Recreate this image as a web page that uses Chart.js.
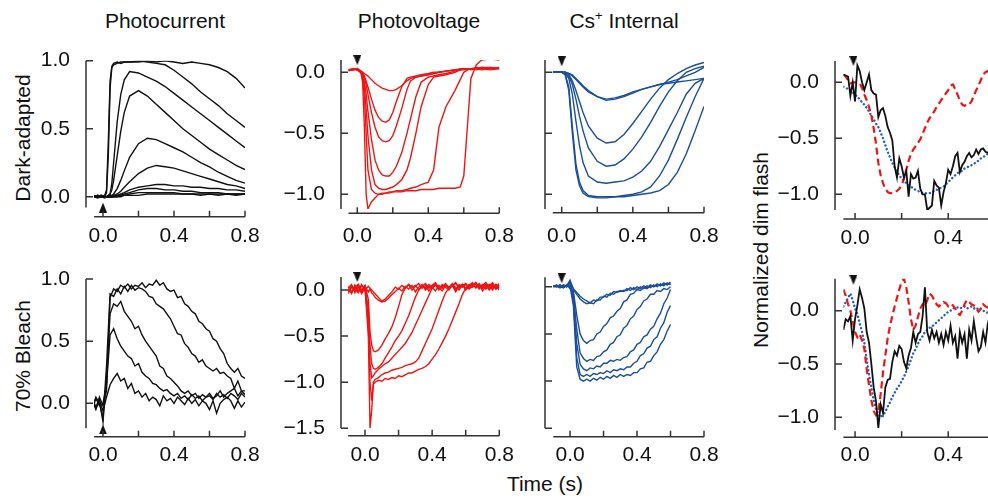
<!DOCTYPE html>
<html>
<head>
<meta charset="utf-8">
<title>Photocurrent, photovoltage and Cs+ internal responses</title>
<script src="https://cdn.jsdelivr.net/npm/chart.js@4.4.1/dist/chart.umd.min.js"></script>
<style>
  html, body { margin: 0; padding: 0; }
  body { width: 988px; height: 498px; overflow: hidden; position: relative; background: #fff;
         font-family: "Liberation Sans", Arial, Helvetica, sans-serif; color: #111; }
  canvas { position: absolute; }
  .txt { position: absolute; font-size: 21px; line-height: 20px; white-space: nowrap; }
  .center { transform: translateX(-50%); }
  .rot { transform: translate(-50%, -50%) rotate(-90deg); }
  sup { font-size: 13px; line-height: 0; vertical-align: 8px; }
</style>
</head>
<body>
<div class="txt center" style="left:165px;top:11px">Photocurrent</div>
<div class="txt center" style="left:419px;top:11px">Photovoltage</div>
<div class="txt center" style="left:624px;top:11px">Cs<sup>+</sup> Internal</div>
<div class="txt rot" style="left:23px;top:138px">Dark-adapted</div>
<div class="txt rot" style="left:23px;top:356px">70% Bleach</div>
<div class="txt rot" style="left:761px;top:250px">Normalized dim flash</div>
<div class="txt center" style="left:545px;top:474px">Time (s)</div>
<script>
// ---- tick values / labels ----
const xTicks = [0, 0.2, 0.4, 0.6, 0.8];
const xLabels = [0, 0.4, 0.8];
const xTicksNorm = [0, 0.2, 0.4, 0.6];
const xLabelsNorm = [0, 0.4];
const yTicksCurrent = [0, 0.5, 1.0];
const yTicksVoltDark = [0, -0.5, -1.0];
const yTicksVoltBleach = [0, -0.5, -1.0, -1.5];
const yTicksNorm = [0, -0.5, -1.0];

// ---- time grids (s) ----
const timeDarkCurrent = [-0.05,-0.03,-0.01,0.01,0.02,0.03,0.04,0.05,0.06,0.08,0.1,0.12,0.15,0.2,0.25,0.3,0.35,0.4,0.45,0.5,0.55,0.6,0.65,0.7,0.75,0.8];
const timeDarkVolt = [-0.05,-0.02,0.0,0.02,0.03,0.04,0.05,0.06,0.08,0.1,0.12,0.14,0.16,0.18,0.2,0.22,0.25,0.28,0.3,0.33,0.36,0.4,0.43,0.46,0.5,0.55,0.58,0.6,0.62,0.64,0.67,0.7,0.75,0.8];
const timeDarkCs = [-0.05,-0.02,0.0,0.02,0.04,0.06,0.08,0.1,0.12,0.15,0.2,0.25,0.3,0.35,0.4,0.45,0.5,0.55,0.6,0.65,0.7,0.75,0.8];
const timeNorm = [-0.05,-0.04,-0.03,-0.02,-0.01,0.0,0.01,0.02,0.03,0.04,
  0.05,0.06,0.07,0.08,0.09,0.1,0.11,0.12,0.13,0.14,
  0.15,0.16,0.17,0.18,0.19,0.2,0.21,0.22,0.23,0.24,
  0.25,0.26,0.27,0.28,0.29,0.3,0.31,0.32,0.33,0.34,
  0.35,0.36,0.37,0.38,0.39,0.4,0.41,0.42,0.43,0.44,
  0.45,0.46,0.47,0.48,0.49,0.5,0.51,0.52,0.53,0.54,
  0.55,0.56,0.57,0.58];
const timeBleachCurrent = [-0.06,-0.04,-0.02,0,0.02,0.04,0.06,0.08,0.1,0.12,
  0.14,0.16,0.18,0.2,0.22,0.24,0.26,0.28,0.3,0.32,
  0.34,0.36,0.38,0.4,0.42,0.44,0.46,0.48,0.5,0.52,
  0.54,0.56,0.58,0.6,0.62,0.64,0.66,0.68,0.7,0.72,
  0.74,0.76,0.78,0.8];
const timeBleachVolt = [-0.1,-0.08,-0.06,-0.04,-0.02,0,0.02,0.03,0.04,0.05,
  0.06,0.08,0.1,0.12,0.14,0.16,0.18,0.2,0.22,0.24,
  0.26,0.28,0.3,0.32,0.34,0.36,0.38,0.4,0.42,0.44,
  0.46,0.48,0.5,0.52,0.54,0.56,0.58,0.6,0.62,0.64,
  0.66,0.68,0.7,0.72,0.74,0.76,0.78,0.8];
const timeBleachCs = [-0.1,-0.08,-0.06,-0.04,-0.02,0,0.02,0.04,0.06,0.08,
  0.1,0.12,0.14,0.16,0.18,0.2,0.22,0.24,0.26,0.28,
  0.3,0.32,0.34,0.36,0.38,0.4,0.42,0.44,0.46,0.48,
  0.5,0.52,0.54,0.56,0.58,0.6];

// ---- dark-adapted photocurrent (normalized) ----
const darkCurrentA = [0.00,0.01,0.00,0.01,0.05,0.40,0.85,0.96,0.98,0.99,0.98,0.99,0.99,0.99,1.00,0.99,1.00,0.99,0.98,0.99,0.98,0.97,0.95,0.92,0.87,0.80];
const darkCurrentB = [0.00,0.00,0.01,0.00,0.03,0.30,0.80,0.95,0.97,0.98,0.99,0.99,0.99,1.00,0.99,0.98,0.97,0.93,0.88,0.83,0.77,0.72,0.67,0.61,0.56,0.51];
const darkCurrentC = [0.00,0.00,0.00,0.01,0.00,0.01,0.02,0.10,0.25,0.55,0.75,0.86,0.92,0.91,0.88,0.85,0.81,0.76,0.71,0.66,0.61,0.56,0.51,0.46,0.41,0.36];
const darkCurrentD = [0.00,0.00,0.00,0.00,0.00,0.01,0.02,0.05,0.12,0.30,0.48,0.62,0.74,0.78,0.74,0.68,0.62,0.56,0.50,0.45,0.40,0.35,0.31,0.27,0.23,0.20];
const darkCurrentE = [0.00,0.00,0.01,0.00,0.00,0.00,0.01,0.01,0.02,0.06,0.12,0.19,0.29,0.39,0.43,0.42,0.39,0.36,0.33,0.29,0.25,0.22,0.18,0.15,0.12,0.10];
const darkCurrentF = [0.00,0.00,0.00,0.00,0.00,0.00,0.00,0.01,0.01,0.02,0.04,0.07,0.11,0.17,0.21,0.23,0.22,0.21,0.19,0.17,0.15,0.13,0.11,0.09,0.08,0.06];
const darkCurrentG = [0.00,0.01,0.00,0.00,0.00,0.00,0.00,0.00,0.01,0.01,0.02,0.03,0.05,0.07,0.08,0.09,0.09,0.08,0.08,0.07,0.07,0.06,0.06,0.05,0.05,0.04];
const darkCurrentH = [0.00,0.00,0.00,-0.01,0.00,0.00,0.00,0.00,0.00,0.01,0.01,0.02,0.03,0.05,0.06,0.06,0.05,0.05,0.04,0.04,0.03,0.03,0.03,0.02,0.02,0.02];
const darkCurrentI = [0.01,0.00,0.00,0.00,0.00,0.00,0.00,0.00,0.00,0.00,0.01,0.01,0.02,0.03,0.03,0.03,0.03,0.03,0.02,0.02,0.02,0.02,0.02,0.02,0.01,0.02];
const darkCurrentJ = [0.00,-0.01,0.00,0.00,0.00,0.00,0.00,0.00,0.00,0.00,0.00,0.01,0.01,0.01,0.02,0.02,0.02,0.02,0.02,0.02,0.01,0.02,0.01,0.02,0.02,0.02];

// ---- dark-adapted photovoltage ----
const darkVoltA = [0.02,0.03,0.02,0.01,0.0,-0.01,-0.02,-0.03,-0.06,-0.09,-0.11,-0.13,-0.14,-0.15,-0.15,-0.14,-0.11,-0.07,-0.05,-0.04,-0.03,-0.02,-0.01,0.0,0.01,0.02,0.02,0.03,0.03,0.03,0.02,0.03,0.02,0.03];
const darkVoltB = [0.02,0.02,0.03,0.01,0.0,-0.03,-0.07,-0.12,-0.22,-0.31,-0.37,-0.40,-0.41,-0.39,-0.33,-0.24,-0.12,-0.05,-0.04,-0.03,-0.02,-0.01,0.0,0.0,0.01,0.02,0.03,0.03,0.02,0.03,0.03,0.02,0.03,0.04];
const darkVoltC = [0.01,0.03,0.02,0.01,-0.01,-0.05,-0.10,-0.18,-0.33,-0.45,-0.53,-0.56,-0.57,-0.56,-0.52,-0.44,-0.30,-0.14,-0.07,-0.04,-0.03,-0.02,-0.01,0.0,0.01,0.02,0.02,0.03,0.03,0.02,0.03,0.04,0.03,0.03];
const darkVoltD = [0.02,0.02,0.02,0.0,-0.02,-0.08,-0.18,-0.32,-0.55,-0.72,-0.80,-0.84,-0.85,-0.85,-0.82,-0.77,-0.66,-0.50,-0.38,-0.20,-0.08,-0.04,-0.03,-0.02,-0.01,0.01,0.02,0.03,0.03,0.03,0.03,0.04,0.04,0.03];
const darkVoltE = [0.02,0.03,0.02,0.0,-0.03,-0.12,-0.30,-0.52,-0.80,-0.92,-0.95,-0.96,-0.96,-0.95,-0.94,-0.92,-0.88,-0.80,-0.70,-0.50,-0.28,-0.10,-0.04,-0.03,-0.02,0.0,0.02,0.02,0.03,0.03,0.04,0.03,0.04,0.03];
const darkVoltF = [0.02,0.02,0.03,0.01,-0.04,-0.20,-0.50,-0.80,-0.96,-0.99,-1.0,-0.99,-0.99,-0.98,-0.98,-0.97,-0.97,-0.96,-0.95,-0.94,-0.92,-0.90,-0.80,-0.45,-0.28,-0.15,-0.06,0.0,0.02,0.03,0.03,0.04,0.03,0.04];
const darkVoltG = [0.02,0.03,0.02,0.0,-0.08,-0.45,-1.0,-1.12,-1.06,-1.03,-1.0,-1.0,-0.99,-0.99,-0.98,-0.98,-0.98,-0.97,-0.97,-0.97,-0.96,-0.96,-0.96,-0.95,-0.95,-0.95,-0.94,-0.85,-0.45,-0.05,0.06,0.10,0.11,0.10];

// ---- dark-adapted Cs+ internal ----
const darkCsA = [0,0,0,0,-0.01,-0.03,-0.06,-0.09,-0.12,-0.16,-0.2,-0.22,-0.21,-0.19,-0.16,-0.14,-0.12,-0.10,-0.08,-0.06,-0.03,0.0,0.04];
const darkCsB = [0,0,0,0,-0.01,-0.02,-0.05,-0.08,-0.11,-0.15,-0.2,-0.23,-0.22,-0.2,-0.17,-0.14,-0.12,-0.1,-0.09,-0.08,-0.07,-0.06,-0.05];
const darkCsC = [0,0,0,0,-0.02,-0.07,-0.15,-0.24,-0.33,-0.44,-0.54,-0.58,-0.57,-0.51,-0.42,-0.32,-0.22,-0.13,-0.06,-0.01,0.03,0.06,0.08];
const darkCsD = [0,0,0,-0.01,-0.03,-0.1,-0.22,-0.36,-0.48,-0.62,-0.73,-0.77,-0.76,-0.71,-0.63,-0.53,-0.41,-0.28,-0.16,-0.07,0.0,0.03,0.05];
const darkCsE = [0,0,0,-0.01,-0.05,-0.18,-0.4,-0.6,-0.74,-0.85,-0.9,-0.91,-0.9,-0.89,-0.86,-0.81,-0.73,-0.61,-0.47,-0.33,-0.18,-0.09,-0.05];
const darkCsF = [0,0,0,-0.02,-0.12,-0.45,-0.75,-0.9,-0.97,-1.01,-1.02,-1.02,-1.02,-1.01,-1.0,-0.98,-0.94,-0.85,-0.72,-0.55,-0.37,-0.2,-0.05];
const darkCsG = [0,0,0,-0.02,-0.15,-0.5,-0.8,-0.93,-0.99,-1.02,-1.03,-1.03,-1.02,-1.02,-1.01,-1.0,-0.99,-0.97,-0.92,-0.82,-0.67,-0.48,-0.28];

// ---- dark-adapted normalized dim flash ----
const darkNormCurrent = [0.07,0.06,0.05,-0.12,0.0,-0.17,0.15,0.1,0.0,-0.07,
  0.0,0.07,-0.07,-0.1,-0.11,-0.31,-0.25,-0.23,-0.3,-0.4,
  -0.45,-0.52,-0.75,-0.85,-0.68,-0.75,-0.85,-0.79,-1.02,-0.82,
  -0.86,-0.85,-0.79,-0.95,-1.0,-1.0,-1.14,-1.12,-1.1,-0.88,
  -0.92,-0.94,-1.1,-0.98,-0.9,-0.78,-0.82,-0.75,-0.66,-0.63,
  -0.8,-0.74,-0.71,-0.66,-0.63,-0.67,-0.65,-0.6,-0.64,-0.6,
  -0.59,-0.62,-0.63,-0.6];
const darkNormVolt = [0.07,0.05,0.02,-0.01,0.0,0.0,-0.01,-0.01,-0.05,-0.11,
  -0.16,-0.22,-0.3,-0.41,-0.55,-0.72,-0.83,-0.9,-0.95,-0.98,
  -0.99,-0.99,-0.98,-0.97,-0.95,-0.92,-0.86,-0.78,-0.7,-0.64,
  -0.6,-0.57,-0.54,-0.51,-0.46,-0.41,-0.36,-0.32,-0.29,-0.26,
  -0.22,-0.19,-0.16,-0.13,-0.1,-0.07,-0.03,-0.02,-0.06,-0.11,
  -0.16,-0.2,-0.21,-0.2,-0.2,-0.17,-0.12,-0.07,-0.03,0.02,
  0.07,0.09,0.1,0.12];
const darkNormCs = [-0.04,-0.05,-0.06,-0.07,-0.09,-0.11,-0.13,-0.15,-0.18,-0.2,
  -0.23,-0.26,-0.3,-0.33,-0.37,-0.4,-0.45,-0.5,-0.56,-0.62,
  -0.67,-0.72,-0.76,-0.8,-0.83,-0.86,-0.88,-0.9,-0.92,-0.93,
  -0.95,-0.96,-0.97,-0.98,-0.99,-0.99,-0.99,-0.99,-0.98,-0.97,
  -0.96,-0.95,-0.94,-0.93,-0.91,-0.89,-0.87,-0.85,-0.83,-0.81,
  -0.8,-0.79,-0.77,-0.76,-0.75,-0.74,-0.73,-0.71,-0.7,-0.68,
  -0.67,-0.65,-0.64,-0.62];

// ---- 70% bleach photocurrent ----
const bleachCurrentA = [0.03,-0.04,0.05,-0.02,0.1,0.85,0.92,0.9,0.95,0.93,
  0.96,0.92,0.95,0.94,0.97,0.93,0.96,0.95,0.99,0.95,
  0.97,0.92,0.9,0.91,0.85,0.86,0.8,0.78,0.74,0.72,
  0.66,0.64,0.6,0.58,0.52,0.5,0.44,0.4,0.32,0.28,
  0.25,0.28,0.22,0.2];
const bleachCurrentB = [-0.03,0.05,0.0,-0.12,0.3,0.88,0.86,0.92,0.88,0.94,
  0.9,0.95,0.91,0.93,0.92,0.9,0.86,0.85,0.8,0.78,
  0.76,0.72,0.68,0.62,0.56,0.55,0.48,0.45,0.4,0.38,
  0.33,0.35,0.3,0.28,0.26,0.28,0.24,0.25,0.22,0.2,
  0.12,0.18,0.1,0.1];
const bleachCurrentC = [0.02,-0.05,0.03,-0.15,0.2,0.72,0.8,0.78,0.82,0.74,
  0.7,0.66,0.6,0.62,0.55,0.5,0.46,0.42,0.38,0.3,
  0.28,0.22,0.2,0.17,0.14,0.1,0.08,0.1,0.06,0.08,
  0.04,0.07,0.05,0.06,0.03,0.08,0.05,0.07,0.04,0.08,
  0.06,0.03,0.08,0.05];
const bleachCurrentD = [-0.05,0.04,-0.02,0.0,0.15,0.55,0.6,0.52,0.46,0.42,
  0.38,0.36,0.3,0.32,0.25,0.22,0.2,0.16,0.15,0.12,
  0.1,0.11,0.08,0.06,0.08,0.04,0.06,0.03,0.07,0.04,
  0.06,0.02,0.05,0.08,0.04,0.06,0.1,0.05,0.08,0.1,
  0.12,0.06,0.1,0.07];
const bleachCurrentE = [0.04,-0.03,0.02,-0.06,0.05,0.15,0.2,0.24,0.18,0.2,
  0.12,0.16,0.08,0.1,0.05,0.08,0.02,0.05,0.03,-0.02,
  0.06,0.02,0.04,0.0,0.05,0.02,-0.01,0.04,0.0,0.03,
  -0.02,0.02,0.0,-0.05,0.02,-0.08,0.0,0.03,0.05,0.02,
  -0.04,0.02,-0.03,0.01];

// ---- 70% bleach photovoltage ----
const bleachVoltA = [0.03,-0.04,0.05,-0.02,0.06,0.0,0.04,0.02,0.0,-0.02,
  -0.04,-0.08,-0.12,-0.1,-0.06,-0.02,0.03,0.01,0.05,0.02,
  0.06,0.0,0.04,0.07,0.02,0.05,-0.01,0.04,0.06,0.0,
  0.03,0.07,0.02,0.05,-0.02,0.04,0.06,0.01,0.05,0.08,
  0.02,0.06,-0.01,0.04,0.05,0.0,0.06,0.03];
const bleachVoltB = [-0.04,0.03,0.0,0.06,-0.03,0.04,-0.02,0.01,-0.03,-0.05,
  -0.08,-0.11,-0.13,-0.12,-0.09,-0.05,-0.02,0.02,-0.01,0.04,
  0.01,0.05,-0.02,0.03,0.06,0.0,0.04,0.02,0.07,0.03,
  -0.01,0.05,0.02,0.06,0.03,0.0,0.05,0.07,0.02,0.04,
  0.08,0.01,0.05,0.03,0.06,0.02,0.04,0.0];
const bleachVoltC = [0.02,0.06,-0.03,0.04,0.0,0.05,-0.1,-0.45,-0.6,-0.66,
  -0.67,-0.65,-0.6,-0.53,-0.47,-0.4,-0.3,-0.18,-0.05,0.02,
  0.06,0.03,0.05,0.0,0.04,0.07,0.02,0.05,0.08,0.01,
  0.04,0.06,0.02,0.05,0.07,0.03,0.06,0.0,0.04,0.07,
  0.03,0.05,0.02,0.06,0.04,0.08,0.01,0.05];
const bleachVoltD = [-0.02,0.04,0.01,-0.03,0.05,0.02,-0.2,-0.6,-0.8,-0.85,
  -0.86,-0.84,-0.8,-0.74,-0.68,-0.62,-0.55,-0.5,-0.44,-0.36,
  -0.28,-0.18,-0.08,0.0,0.05,0.02,0.06,0.03,-0.01,0.05,
  0.02,0.06,0.03,0.07,0.01,0.04,0.06,0.02,0.05,0.03,
  0.07,0.02,0.04,0.06,0.01,0.05,0.03,0.07];
const bleachVoltE = [0.01,-0.03,0.05,0.0,-0.02,0.04,-0.3,-0.8,-0.95,-0.93,
  -0.9,-0.86,-0.83,-0.8,-0.78,-0.74,-0.7,-0.66,-0.62,-0.58,
  -0.52,-0.46,-0.38,-0.3,-0.22,-0.14,-0.06,0.02,0.05,0.01,
  0.06,0.03,0.0,0.05,0.08,0.02,0.04,0.06,0.01,0.05,
  0.03,0.07,0.02,0.05,0.0,0.04,0.06,0.02];
const bleachVoltF = [-0.02,0.05,0.0,0.03,-0.04,0.02,-0.4,-1.0,-1.2,-1.0,
  -0.97,-0.95,-0.92,-0.9,-0.89,-0.87,-0.86,-0.85,-0.84,-0.82,
  -0.81,-0.8,-0.78,-0.74,-0.66,-0.58,-0.5,-0.42,-0.32,-0.22,
  -0.12,-0.03,0.02,0.05,0.0,0.06,0.03,0.07,0.02,0.05,
  0.08,0.03,0.06,0.01,0.05,0.07,0.02,0.04];
const bleachVoltG = [0.04,-0.02,0.03,0.06,0.0,0.03,-0.5,-1.5,-1.3,-1.02,
  -1.0,-0.98,-0.99,-0.96,-0.97,-0.95,-0.96,-0.93,-0.94,-0.92,
  -0.9,-0.9,-0.88,-0.86,-0.85,-0.83,-0.8,-0.75,-0.7,-0.64,
  -0.57,-0.5,-0.42,-0.33,-0.24,-0.15,-0.05,0.02,0.06,0.03,
  0.07,0.02,0.05,0.08,0.03,0.06,0.01,0.05];

// ---- 70% bleach Cs+ internal ----
const bleachCsA = [0.0,0.01,-0.01,0.02,0.0,0.05,-0.02,-0.06,-0.1,-0.13,
  -0.15,-0.17,-0.14,-0.15,-0.11,-0.11,-0.08,-0.09,-0.05,-0.06,
  -0.04,-0.05,-0.02,-0.04,-0.01,-0.03,0.0,-0.02,0.01,-0.01,
  0.02,0.0,0.03,0.01,0.04,0.02];
const bleachCsB = [0.01,0.0,0.02,-0.01,0.01,0.07,-0.03,-0.08,-0.13,-0.16,
  -0.18,-0.17,-0.18,-0.14,-0.14,-0.1,-0.11,-0.07,-0.08,-0.05,
  -0.05,-0.04,-0.04,-0.01,-0.03,0.0,-0.02,0.01,-0.01,0.02,
  0.0,0.03,0.01,0.04,0.02,0.05];
const bleachCsC = [0.0,0.01,0.0,-0.01,0.02,-0.02,-0.05,-0.3,-0.5,-0.57,
  -0.6,-0.57,-0.56,-0.5,-0.48,-0.42,-0.39,-0.33,-0.31,-0.26,
  -0.23,-0.16,-0.14,-0.08,-0.07,-0.03,-0.04,-0.01,-0.02,0.01,
  0.0,0.02,0.01,0.03,0.02,0.04];
const bleachCsD = [0.0,0.01,-0.01,0.02,0.0,0.04,-0.08,-0.45,-0.7,-0.76,
  -0.79,-0.77,-0.78,-0.74,-0.73,-0.69,-0.67,-0.61,-0.59,-0.53,
  -0.51,-0.44,-0.41,-0.34,-0.31,-0.24,-0.21,-0.15,-0.13,-0.08,
  -0.08,-0.04,-0.05,-0.02,-0.03,0.0];
const bleachCsE = [0.01,0.0,0.02,0.0,0.01,0.02,-0.1,-0.6,-0.82,-0.87,
  -0.89,-0.86,-0.87,-0.84,-0.85,-0.81,-0.81,-0.78,-0.79,-0.77,
  -0.78,-0.75,-0.74,-0.69,-0.67,-0.61,-0.59,-0.53,-0.51,-0.45,
  -0.42,-0.34,-0.28,-0.18,-0.12,-0.03];
const bleachCsF = [0.0,0.02,-0.01,0.01,0.0,0.05,-0.15,-0.75,-0.93,-0.95,
  -0.93,-0.95,-0.92,-0.93,-0.91,-0.92,-0.89,-0.91,-0.88,-0.89,
  -0.87,-0.88,-0.85,-0.85,-0.81,-0.79,-0.73,-0.71,-0.65,-0.63,
  -0.56,-0.53,-0.44,-0.38,-0.27,-0.2];
const bleachCsG = [0.01,0.0,0.01,-0.01,0.02,0.0,-0.2,-0.85,-0.98,-1.0,
  -0.98,-1.0,-0.97,-0.99,-0.96,-0.98,-0.95,-0.97,-0.94,-0.96,
  -0.93,-0.95,-0.93,-0.94,-0.91,-0.91,-0.87,-0.86,-0.8,-0.79,
  -0.73,-0.69,-0.61,-0.56,-0.47,-0.4];

// ---- 70% bleach normalized dim flash ----
const bleachNormCurrent = [-0.18,-0.08,-0.1,-0.05,-0.28,-0.08,0.05,0.2,0.12,0.02,
  -0.2,-0.3,-0.5,-0.72,-0.85,-1.1,-0.88,-0.96,-0.72,-0.65,
  -0.64,-0.48,-0.38,-0.42,-0.33,-0.36,-0.48,-0.54,-0.42,-0.35,
  -0.2,-0.3,-0.22,-0.2,-0.05,0.22,-0.2,-0.28,-0.18,-0.26,
  -0.2,-0.3,-0.22,-0.32,-0.2,-0.28,-0.14,-0.3,-0.24,-0.45,
  -0.2,-0.3,-0.22,-0.45,-0.18,-0.28,-0.1,-0.25,-0.38,-0.34,
  -0.2,-0.3,-0.12,-0.05];
const bleachNormVolt = [0.2,0.14,0.06,0.0,-0.1,-0.2,-0.25,-0.22,-0.28,-0.36,
  -0.55,-0.7,-0.84,-0.94,-0.98,-0.95,-0.78,-0.58,-0.42,-0.26,
  -0.14,-0.05,0.04,0.12,0.2,0.27,0.3,0.22,0.08,-0.08,
  -0.18,-0.14,-0.06,0.02,0.06,0.04,0.1,0.16,0.14,0.1,
  0.06,0.04,0.06,0.08,0.07,0.04,0.06,0.05,0.02,-0.02,
  -0.04,0.0,0.06,0.1,0.08,0.06,0.05,0.02,-0.01,0.02,
  0.06,0.04,0.03,0.02];
const bleachNormCs = [0.04,0.08,0.12,0.16,0.1,0.02,-0.03,-0.12,-0.2,-0.3,
  -0.46,-0.6,-0.72,-0.84,-0.92,-0.97,-1.0,-0.98,-0.95,-0.9,
  -0.86,-0.81,-0.77,-0.73,-0.7,-0.66,-0.62,-0.57,-0.52,-0.46,
  -0.4,-0.36,-0.31,-0.27,-0.24,-0.2,-0.18,-0.16,-0.15,-0.13,
  -0.11,-0.09,-0.07,-0.05,-0.03,-0.01,0.0,0.02,0.03,0.03,
  0.02,0.03,0.04,0.02,0.03,0.04,0.02,0.03,0.01,0.02,
  0.0,-0.01,-0.02,-0.03];

const BLACK = '#111111';
const RED = '#f01515';
const BLUE = '#1b4e9e';
const DOT_BLUE = '#2461c2';

Chart.defaults.font.family = '"Liberation Sans", Arial, Helvetica, sans-serif';
Chart.defaults.font.size = 21;
Chart.defaults.color = '#111';

function points(t, v) {
  return v.map((y, i) => ({ x: t[i], y: y }));
}

function trace(t, v, color, extra) {
  return Object.assign({
    data: points(t, v), borderColor: color, borderWidth: 1.4,
    pointRadius: 0, tension: 0, fill: false
  }, extra || {});
}

// small filled triangle marking the flash
function arrowImage(down) {
  const c = document.createElement('canvas');
  c.width = 8; c.height = 10;
  const g = c.getContext('2d');
  g.fillStyle = '#111';
  g.beginPath();
  if (down) { g.moveTo(0, 0); g.lineTo(8, 0); g.lineTo(4, 10); }
  else { g.moveTo(4, 0); g.lineTo(8, 10); g.lineTo(0, 10); }
  g.closePath();
  g.fill();
  return c;
}
const arrowUp = arrowImage(false);
const arrowDown = arrowImage(true);

function fmt(v) {
  const s = Math.abs(v).toFixed(1);
  return v < -1e-9 ? '\u2212' + s : s;
}
function has(list, v) {
  return list.some(l => Math.abs(l - v) < 1e-6);
}

// detached axes: y line left of the plot, x line below it
function axesPlugin(yGap, xGap) {
  return {
    id: 'detachedAxes',
    afterDatasetsDraw(chart) {
      const { ctx, chartArea: a, scales: { x, y } } = chart;
      const ax = a.left - yGap, ay = a.bottom + xGap;
      ctx.save();
      ctx.strokeStyle = '#333';
      ctx.lineWidth = 1.5;
      ctx.beginPath();
      ctx.moveTo(ax, a.top); ctx.lineTo(ax, a.bottom);
      y.ticks.forEach(t => { const p = y.getPixelForValue(t.value); ctx.moveTo(ax, p); ctx.lineTo(ax + 7, p); });
      ctx.moveTo(a.left, ay); ctx.lineTo(a.right, ay);
      x.ticks.forEach(t => { const p = x.getPixelForValue(t.value); ctx.moveTo(p, ay); ctx.lineTo(p, ay - 6); });
      ctx.stroke();
      ctx.restore();
    }
  };
}

function panel(p) {
  const L = 70, T = 40, R = 40, B = 52;
  const cl = Math.floor(p.box[0] - L), ct = Math.floor(p.box[1] - T);
  const cw = Math.ceil(p.box[2] - cl + R), ch = Math.ceil(p.box[3] - ct + B);
  const canvas = document.createElement('canvas');
  canvas.width = cw; canvas.height = ch;
  canvas.style.left = cl + 'px'; canvas.style.top = ct + 'px';
  canvas.style.width = cw + 'px'; canvas.style.height = ch + 'px';
  document.body.appendChild(canvas);

  const marker = {
    data: [{ x: p.flash[0], y: p.flash[1] }], showLine: false,
    pointStyle: p.flash[2] ? arrowDown : arrowUp, pointRadius: 5, clip: false
  };

  new Chart(canvas, {
    type: 'line',
    data: { datasets: p.datasets.concat([marker]) },
    options: {
      responsive: false, animation: false, devicePixelRatio: 1, events: [],
      layout: { padding: { left: 0, top: p.box[1] - ct, right: cw - (p.box[2] - cl), bottom: 0 } },
      plugins: { legend: { display: false }, tooltip: { enabled: false } },
      scales: {
        x: {
          type: 'linear', min: p.xr[0], max: p.xr[1],
          grid: { display: false }, border: { display: false },
          afterBuildTicks: s => { s.ticks = p.xt.map(v => ({ value: v })); },
          afterFit: s => { s.height = ch - (p.box[3] - ct); },
          ticks: { padding: p.xPad, maxRotation: 0, autoSkip: false,
                   callback: v => has(p.xl, v) ? fmt(v) : '' }
        },
        y: {
          type: 'linear', min: p.yr[0], max: p.yr[1],
          grid: { display: false }, border: { display: false },
          afterBuildTicks: s => { s.ticks = p.yt.map(v => ({ value: v })); },
          afterFit: s => { s.width = p.box[0] - cl; },
          ticks: { padding: p.yGap + 8, autoSkip: false,
                   callback: v => has(p.yl, v) ? fmt(v) : '' }
        }
      }
    },
    plugins: [axesPlugin(p.yGap, p.xGap)]
  });
}

const normStyle = {
  solid: { borderWidth: 1.8 },
  dashed: { borderWidth: 2.2, borderDash: [7, 4] },
  dotted: { borderWidth: 2.4, borderDash: [0.1, 3.8], borderCapStyle: 'round' }
};

// Dark-adapted row
panel({
  box: [94.1, 60.7, 245, 207.6], xr: [-0.05, 0.8], yr: [-0.08, 1.0],
  xt: xTicks, xl: xLabels, yt: yTicksCurrent, yl: yTicksCurrent,
  yGap: 8.1, xGap: 9.1, xPad: 8.4, flash: [0, -0.08, false],
  datasets: [darkCurrentA, darkCurrentB, darkCurrentC, darkCurrentD, darkCurrentE,
             darkCurrentF, darkCurrentG, darkCurrentH, darkCurrentI, darkCurrentJ]
    .map(v => trace(timeDarkCurrent, v, BLACK))
});
panel({
  box: [348.4, 60.1, 499.3, 209], xr: [-0.05, 0.8], yr: [-1.12, 0.1],
  xt: xTicks, xl: xLabels, yt: yTicksVoltDark, yl: yTicksVoltDark,
  yGap: 7.4, xGap: 4.3, xPad: 7, flash: [0, 0.1, true],
  datasets: [darkVoltA, darkVoltB, darkVoltC, darkVoltD, darkVoltE, darkVoltF, darkVoltG]
    .map(v => trace(timeDarkVolt, v, RED))
});
panel({
  box: [552.8, 60.1, 704, 208.9], xr: [-0.05, 0.8], yr: [-1.12, 0.1],
  xt: xTicks, xl: xLabels, yt: yTicksVoltDark, yl: [],
  yGap: 7.8, xGap: 3.8, xPad: 7, flash: [0, 0.09, true],
  datasets: [darkCsA, darkCsB, darkCsC, darkCsD, darkCsE, darkCsF, darkCsG]
    .map(v => trace(timeDarkCs, v, BLUE))
});
panel({
  box: [843.4, 61, 994.8, 210], xr: [-0.05, 0.6], yr: [-1.14, 0.19],
  xt: xTicksNorm, xl: xLabelsNorm, yt: yTicksNorm, yl: yTicksNorm,
  yGap: 8.4, xGap: 9, xPad: 8, flash: [-0.007, 0.19, true],
  datasets: [
    trace(timeNorm, darkNormCurrent, BLACK, normStyle.solid),
    trace(timeNorm, darkNormVolt, RED, normStyle.dashed),
    trace(timeNorm, darkNormCs, DOT_BLUE, normStyle.dotted)
  ]
});

// 70% bleach row
panel({
  box: [94.1, 279, 245, 428.2], xr: [-0.05, 0.8], yr: [-0.2, 1.0],
  xt: xTicks, xl: xLabels, yt: yTicksCurrent, yl: yTicksCurrent,
  yGap: 8.1, xGap: 8.5, xPad: 6.8, flash: [0, -0.21, false],
  datasets: [bleachCurrentA, bleachCurrentB, bleachCurrentC, bleachCurrentD, bleachCurrentE]
    .map(v => trace(timeBleachCurrent, v, BLACK))
});
panel({
  box: [348.2, 277.1, 499.3, 428.3], xr: [-0.1, 0.8], yr: [-1.5, 0.14],
  xt: xTicks, xl: xLabels, yt: yTicksVoltBleach, yl: yTicksVoltBleach,
  yGap: 7.2, xGap: 7.4, xPad: 6.7, flash: [-0.046, 0.14, true],
  datasets: [bleachVoltA, bleachVoltB, bleachVoltC, bleachVoltD, bleachVoltE, bleachVoltF, bleachVoltG]
    .map(v => trace(timeBleachVolt, v, RED))
});
panel({
  box: [553.3, 277.3, 704, 428.3], xr: [-0.1, 0.8], yr: [-1.5, 0.1],
  xt: xTicks, xl: xLabels, yt: yTicksVoltBleach, yl: [],
  yGap: 8.3, xGap: 8.4, xPad: 6.7, flash: [-0.05, 0.09, true],
  datasets: [bleachCsA, bleachCsB, bleachCsC, bleachCsD, bleachCsE, bleachCsF, bleachCsG]
    .map(v => trace(timeBleachCs, v, BLUE))
});
panel({
  box: [843.4, 278.7, 994.8, 430.1], xr: [-0.05, 0.6], yr: [-1.12, 0.3],
  xt: xTicksNorm, xl: xLabelsNorm, yt: yTicksNorm, yl: yTicksNorm,
  yGap: 8.4, xGap: 7.2, xPad: 5, flash: [-0.007, 0.29, true],
  datasets: [
    trace(timeNorm, bleachNormCurrent, BLACK, normStyle.solid),
    trace(timeNorm, bleachNormVolt, RED, normStyle.dashed),
    trace(timeNorm, bleachNormCs, DOT_BLUE, normStyle.dotted)
  ]
});
</script>
</body>
</html>
